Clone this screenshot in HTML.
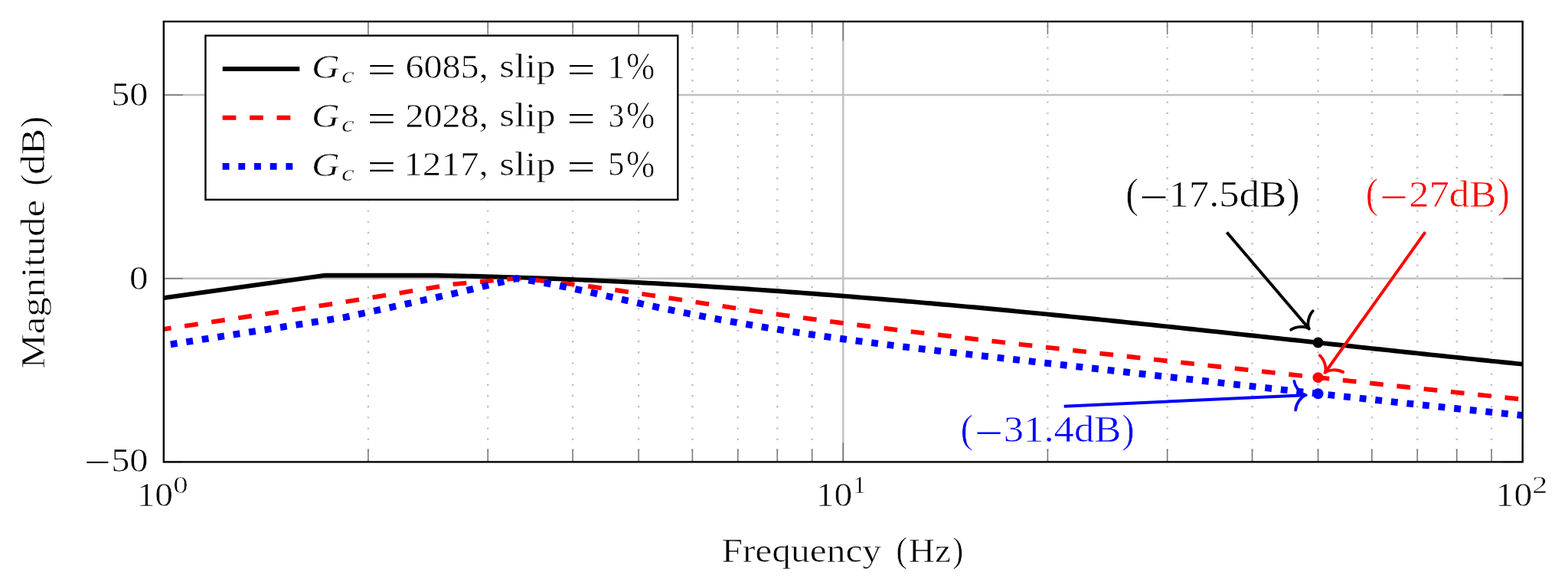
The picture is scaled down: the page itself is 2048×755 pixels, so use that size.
<!DOCTYPE html>
<html><head><meta charset="utf-8"><title>Magnitude plot</title>
<style>html,body{margin:0;padding:0;background:#fff;}svg{display:block;}</style>
</head><body>
<svg width="2048" height="755" viewBox="0 0 2048 755">
<defs><clipPath id="ax"><rect x="213.8" y="28.1" width="1774.9" height="575.3"/></clipPath></defs>
<rect width="2048" height="755" fill="#fff"/>
<path d="M480.95 603.4 V28.1 M637.22 603.4 V28.1 M748.1 603.4 V28.1 M834.1 603.4 V28.1 M904.37 603.4 V28.1 M963.78 603.4 V28.1 M1015.25 603.4 V28.1 M1060.64 603.4 V28.1 M1368.4 603.4 V28.1 M1524.67 603.4 V28.1 M1635.55 603.4 V28.1 M1721.55 603.4 V28.1 M1791.82 603.4 V28.1 M1851.23 603.4 V28.1 M1902.7 603.4 V28.1 M1948.09 603.4 V28.1" stroke="#c0c0c0" stroke-width="2.37" stroke-dasharray="2.37 11.83" fill="none"/>
<path d="M1101.25 603.4 V28.1 M213.8 363.69 H1988.7 M213.8 123.98 H1988.7" stroke="#c0c0c0" stroke-width="2.37" fill="none"/>
<path d="M213.8 603.4 v-25.24 M213.8 28.1 v25.24 M1101.25 603.4 v-25.24 M1101.25 28.1 v25.24 M1988.7 603.4 v-25.24 M1988.7 28.1 v25.24 M480.95 603.4 v-16.82 M480.95 28.1 v16.82 M637.22 603.4 v-16.82 M637.22 28.1 v16.82 M748.1 603.4 v-16.82 M748.1 28.1 v16.82 M834.1 603.4 v-16.82 M834.1 28.1 v16.82 M904.37 603.4 v-16.82 M904.37 28.1 v16.82 M963.78 603.4 v-16.82 M963.78 28.1 v16.82 M1015.25 603.4 v-16.82 M1015.25 28.1 v16.82 M1060.64 603.4 v-16.82 M1060.64 28.1 v16.82 M1368.4 603.4 v-16.82 M1368.4 28.1 v16.82 M1524.67 603.4 v-16.82 M1524.67 28.1 v16.82 M1635.55 603.4 v-16.82 M1635.55 28.1 v16.82 M1721.55 603.4 v-16.82 M1721.55 28.1 v16.82 M1791.82 603.4 v-16.82 M1791.82 28.1 v16.82 M1851.23 603.4 v-16.82 M1851.23 28.1 v16.82 M1902.7 603.4 v-16.82 M1902.7 28.1 v16.82 M1948.09 603.4 v-16.82 M1948.09 28.1 v16.82 M213.8 603.4 h25.24 M1988.7 603.4 h-25.24 M213.8 363.69 h25.24 M1988.7 363.69 h-25.24 M213.8 123.98 h25.24 M1988.7 123.98 h-25.24" stroke="#7a7a7a" stroke-width="1.6" fill="none"/>
<g clip-path="url(#ax)" fill="none" stroke-linejoin="round">
<path d="M200 391.03 L424.9 359.6 L570.8 359.8 L578.76 359.95 L586.72 360.1 L594.69 360.27 L602.65 360.45 L610.61 360.63 L618.57 360.82 L626.53 361.02 L634.5 361.23 L642.46 361.44 L650.42 361.67 L658.38 361.9 L666.34 362.14 L674.31 362.39 L682.27 362.65 L690.23 362.92 L698.19 363.19 L706.15 363.47 L714.12 363.76 L722.08 364.06 L730.04 364.37 L738 364.68 L745.96 365 L753.93 365.33 L761.89 365.67 L769.85 366.01 L777.81 366.37 L785.77 366.73 L793.74 367.1 L801.7 367.47 L809.66 367.85 L817.62 368.25 L825.58 368.64 L833.55 369.05 L841.51 369.46 L849.47 369.88 L857.43 370.31 L865.39 370.74 L873.36 371.19 L881.32 371.64 L889.28 372.09 L897.24 372.56 L905.2 373.03 L913.17 373.5 L921.13 373.99 L929.09 374.48 L937.05 374.98 L945.01 375.48 L952.98 375.99 L960.94 376.51 L968.9 377.03 L976.86 377.57 L984.82 378.1 L992.79 378.65 L1000.75 379.2 L1008.71 379.75 L1016.67 380.32 L1024.63 380.89 L1032.6 381.46 L1040.56 382.04 L1048.52 382.63 L1056.48 383.22 L1064.44 383.82 L1072.41 384.43 L1080.37 385.04 L1088.33 385.66 L1096.29 386.28 L1104.25 386.91 L1112.22 387.54 L1120.18 388.18 L1128.14 388.83 L1136.1 389.48 L1144.06 390.14 L1152.03 390.8 L1159.99 391.46 L1167.95 392.14 L1175.91 392.81 L1183.87 393.49 L1191.84 394.18 L1199.8 394.87 L1207.76 395.57 L1215.72 396.27 L1223.68 396.98 L1231.65 397.69 L1239.61 398.41 L1247.57 399.13 L1255.53 399.85 L1263.49 400.58 L1271.46 401.31 L1279.42 402.05 L1287.38 402.79 L1295.34 403.54 L1303.31 404.29 L1311.27 405.05 L1319.23 405.8 L1327.19 406.57 L1335.15 407.33 L1343.12 408.1 L1351.08 408.88 L1359.04 409.65 L1367 410.43 L1374.96 411.22 L1382.93 412.01 L1390.89 412.8 L1398.85 413.59 L1406.81 414.39 L1414.77 415.19 L1422.74 415.99 L1430.7 416.8 L1438.66 417.61 L1446.62 418.42 L1454.58 419.24 L1462.55 420.05 L1470.51 420.87 L1478.47 421.7 L1486.43 422.52 L1494.39 423.35 L1502.36 424.18 L1510.32 425.01 L1518.28 425.84 L1526.24 426.68 L1534.2 427.52 L1542.17 428.35 L1550.13 429.2 L1558.09 430.04 L1566.05 430.88 L1574.01 431.73 L1581.98 432.58 L1589.94 433.43 L1597.9 434.28 L1605.86 435.13 L1613.82 435.98 L1621.79 436.83 L1629.75 437.69 L1637.71 438.54 L1645.67 439.4 L1653.63 440.26 L1661.6 441.11 L1669.56 441.97 L1677.52 442.83 L1685.48 443.69 L1693.44 444.55 L1701.41 445.41 L1709.37 446.27 L1717.33 447.12 L1725.29 447.98 L1733.25 448.84 L1741.22 449.7 L1749.18 450.56 L1757.14 451.42 L1765.1 452.27 L1773.06 453.13 L1781.03 453.98 L1788.99 454.84 L1796.95 455.69 L1804.91 456.55 L1812.87 457.4 L1820.84 458.25 L1828.8 459.1 L1836.76 459.94 L1844.72 460.79 L1852.68 461.63 L1860.65 462.48 L1868.61 463.32 L1876.57 464.16 L1884.53 464.99 L1892.49 465.83 L1900.46 466.66 L1908.42 467.49 L1916.38 468.32 L1924.34 469.14 L1932.3 469.97 L1940.27 470.79 L1948.23 471.6 L1956.19 472.42 L1964.15 473.23 L1972.11 474.04 L1980.08 474.84 L1988.04 475.64 L1996 476.44" stroke="#000" stroke-width="5.91"/>
<path d="M213.8 430 L435 396.9 L593.5 371.1 L674.6 363.68 L682.56 364.37 L690.52 365.09 L698.48 365.85 L706.44 366.65 L714.4 367.49 L722.36 368.36 L730.32 369.26 L738.28 370.19 L746.24 371.15 L754.2 372.14 L762.16 373.16 L770.12 374.2 L778.08 375.27 L786.04 376.35 L794 377.45 L801.96 378.58 L809.92 379.72 L817.88 380.87 L825.84 382.04 L833.8 383.22 L841.77 384.4 L849.73 385.6 L857.69 386.8 L865.65 388.01 L873.61 389.23 L881.57 390.45 L889.53 391.67 L897.49 392.89 L905.45 394.11 L913.41 395.33 L921.37 396.56 L929.33 397.77 L937.29 398.99 L945.25 400.2 L953.21 401.4 L961.17 402.6 L969.13 403.79 L977.09 404.97 L985.05 406.14 L993.01 407.3 L1000.97 408.45 L1008.93 409.59 L1016.89 410.71 L1024.85 411.83 L1032.81 412.94 L1040.77 414.04 L1048.73 415.12 L1056.69 416.2 L1064.65 417.27 L1072.61 418.33 L1080.57 419.38 L1088.53 420.43 L1096.49 421.46 L1104.45 422.49 L1112.41 423.51 L1120.37 424.52 L1128.33 425.53 L1136.29 426.53 L1144.25 427.52 L1152.21 428.51 L1160.17 429.49 L1168.13 430.46 L1176.1 431.43 L1184.06 432.4 L1192.02 433.36 L1199.98 434.31 L1207.94 435.26 L1215.9 436.21 L1223.86 437.15 L1231.82 438.09 L1239.78 439.02 L1247.74 439.96 L1255.7 440.88 L1263.66 441.81 L1271.62 442.73 L1279.58 443.66 L1287.54 444.58 L1295.5 445.49 L1303.46 446.41 L1311.42 447.33 L1319.38 448.24 L1327.34 449.15 L1335.3 450.07 L1343.26 450.98 L1351.22 451.89 L1359.18 452.8 L1367.14 453.7 L1375.1 454.61 L1383.06 455.52 L1391.02 456.42 L1398.98 457.32 L1406.94 458.23 L1414.9 459.13 L1422.86 460.03 L1430.82 460.93 L1438.78 461.83 L1446.74 462.72 L1454.7 463.62 L1462.66 464.52 L1470.62 465.41 L1478.58 466.3 L1486.54 467.2 L1494.5 468.09 L1502.47 468.98 L1510.43 469.87 L1518.39 470.76 L1526.35 471.64 L1534.31 472.53 L1542.27 473.42 L1550.23 474.3 L1558.19 475.18 L1566.15 476.07 L1574.11 476.95 L1582.07 477.83 L1590.03 478.71 L1597.99 479.59 L1605.95 480.47 L1613.91 481.34 L1621.87 482.22 L1629.83 483.09 L1637.79 483.97 L1645.75 484.84 L1653.71 485.72 L1661.67 486.59 L1669.63 487.46 L1677.59 488.33 L1685.55 489.2 L1693.51 490.07 L1701.47 490.93 L1709.43 491.8 L1717.39 492.67 L1725.35 493.53 L1733.31 494.39 L1741.27 495.26 L1749.23 496.12 L1757.19 496.98 L1765.15 497.84 L1773.11 498.7 L1781.07 499.56 L1789.03 500.42 L1796.99 501.28 L1804.95 502.13 L1812.91 502.99 L1820.87 503.85 L1828.83 504.7 L1836.8 505.55 L1844.76 506.41 L1852.72 507.26 L1860.68 508.11 L1868.64 508.96 L1876.6 509.81 L1884.56 510.66 L1892.52 511.51 L1900.48 512.36 L1908.44 513.2 L1916.4 514.05 L1924.36 514.9 L1932.32 515.74 L1940.28 516.59 L1948.24 517.43 L1956.2 518.27 L1964.16 519.11 L1972.12 519.96 L1980.08 520.8 L1988.04 521.64 L1996 522.48" stroke="#f00" stroke-width="5.91" stroke-dasharray="17.74" stroke-dashoffset="7.9"/>
<path d="M213.8 451.2 L451 414.4 L593.5 383.3 L674.6 363.69 L682.56 364.84 L690.52 366.07 L698.48 367.38 L706.44 368.76 L714.4 370.2 L722.36 371.7 L730.32 373.26 L738.28 374.86 L746.24 376.51 L754.2 378.19 L762.16 379.91 L770.12 381.66 L778.08 383.42 L786.04 385.2 L794 386.99 L801.96 388.79 L809.92 390.59 L817.88 392.38 L825.84 394.16 L833.8 395.93 L841.77 397.68 L849.73 399.4 L857.69 401.1 L865.65 402.77 L873.61 404.43 L881.57 406.06 L889.53 407.67 L897.49 409.26 L905.45 410.82 L913.41 412.36 L921.37 413.88 L929.33 415.38 L937.29 416.86 L945.25 418.32 L953.21 419.75 L961.17 421.16 L969.13 422.56 L977.09 423.93 L985.05 425.28 L993.01 426.61 L1000.97 427.91 L1008.93 429.2 L1016.89 430.47 L1024.85 431.72 L1032.81 432.95 L1040.77 434.16 L1048.73 435.35 L1056.69 436.53 L1064.65 437.68 L1072.61 438.83 L1080.57 439.95 L1088.53 441.06 L1096.49 442.16 L1104.45 443.24 L1112.41 444.31 L1120.37 445.36 L1128.33 446.41 L1136.29 447.44 L1144.25 448.45 L1152.21 449.46 L1160.17 450.46 L1168.13 451.44 L1176.1 452.42 L1184.06 453.39 L1192.02 454.35 L1199.98 455.3 L1207.94 456.24 L1215.9 457.18 L1223.86 458.11 L1231.82 459.03 L1239.78 459.95 L1247.74 460.87 L1255.7 461.78 L1263.66 462.68 L1271.62 463.58 L1279.58 464.48 L1287.54 465.38 L1295.5 466.28 L1303.46 467.17 L1311.42 468.06 L1319.38 468.96 L1327.34 469.85 L1335.3 470.74 L1343.26 471.64 L1351.22 472.54 L1359.18 473.43 L1367.14 474.33 L1375.1 475.23 L1383.06 476.13 L1391.02 477.02 L1398.98 477.92 L1406.94 478.82 L1414.9 479.72 L1422.86 480.63 L1430.82 481.53 L1438.78 482.43 L1446.74 483.33 L1454.7 484.23 L1462.66 485.13 L1470.62 486.03 L1478.58 486.94 L1486.54 487.84 L1494.5 488.74 L1502.47 489.64 L1510.43 490.54 L1518.39 491.44 L1526.35 492.34 L1534.31 493.24 L1542.27 494.15 L1550.23 495.04 L1558.19 495.94 L1566.15 496.84 L1574.11 497.74 L1582.07 498.64 L1590.03 499.54 L1597.99 500.43 L1605.95 501.33 L1613.91 502.22 L1621.87 503.12 L1629.83 504.01 L1637.79 504.9 L1645.75 505.79 L1653.71 506.68 L1661.67 507.57 L1669.63 508.46 L1677.59 509.35 L1685.55 510.23 L1693.51 511.12 L1701.47 512 L1709.43 512.88 L1717.39 513.76 L1725.35 514.64 L1733.31 515.52 L1741.27 516.39 L1749.23 517.27 L1757.19 518.14 L1765.15 519.01 L1773.11 519.88 L1781.07 520.74 L1789.03 521.61 L1796.99 522.47 L1804.95 523.33 L1812.91 524.19 L1820.87 525.05 L1828.83 525.91 L1836.8 526.76 L1844.76 527.61 L1852.72 528.46 L1860.68 529.31 L1868.64 530.15 L1876.6 530.99 L1884.56 531.83 L1892.52 532.67 L1900.48 533.51 L1908.44 534.34 L1916.4 535.17 L1924.36 535.99 L1932.32 536.82 L1940.28 537.64 L1948.24 538.46 L1956.2 539.27 L1964.16 540.09 L1972.12 540.9 L1980.08 541.7 L1988.04 542.51 L1996 543.31" stroke="#00f" stroke-width="8.87" stroke-dasharray="8.87 11.83" stroke-dashoffset="11.6"/>
</g>
<rect x="213.8" y="28.1" width="1774.9" height="575.3" fill="none" stroke="#000" stroke-width="2.37"/>
<circle cx="1721.55" cy="447.59" r="7" fill="#000"/>
<circle cx="1721.55" cy="493.13" r="7" fill="#f00"/>
<circle cx="1721.55" cy="514.23" r="7" fill="#00f"/>
<path d="M1602.4 303.5 L1707.99 427.29" stroke="#000" stroke-width="4" fill="none"/>
<path d="M1686.15 430.65 C1693.24 425.93 1705.05 425.58 1709.86 429.48 C1706.77 424.12 1708.98 412.51 1714.75 406.25" stroke="#000" stroke-width="3.8" fill="none" stroke-linecap="round" stroke-linejoin="round"/>
<path d="M1861.6 303.1 L1732.2 484.55" stroke="#f00" stroke-width="4" fill="none"/>
<path d="M1723.64 464.18 C1729.94 469.91 1733.15 481.28 1730.53 486.9 C1734.98 482.59 1746.78 481.92 1754.25 486.01" stroke="#f00" stroke-width="3.8" fill="none" stroke-linecap="round" stroke-linejoin="round"/>
<path d="M1389.7 530.8 L1702.92 516.21" stroke="#00f" stroke-width="4" fill="none"/>
<path d="M1692.19 535.53 C1692.81 527.03 1699.77 517.48 1705.8 516.07 C1699.67 515.23 1691.85 506.37 1690.44 497.97" stroke="#00f" stroke-width="3.8" fill="none" stroke-linecap="round" stroke-linejoin="round"/>
<rect x="268.4" y="46.5" width="616.9" height="214.3" fill="#fff" stroke="#000" stroke-width="2.37"/>
<path d="M290.7 90 H391.3" stroke="#000" stroke-width="5.91"/>
<path d="M290.6 153.7 H391.3" stroke="#f00" stroke-width="5.91" stroke-dasharray="17.74"/>
<path d="M290.6 217.4 H391.3" stroke="#00f" stroke-width="8.87" stroke-dasharray="8.87 11.83"/>
<g style="font-family:'Liberation Serif',serif;font-kerning:none" stroke="#fff" stroke-width="0.6">
<text transform="translate(406.9 102.4) scale(1.1393 1.0000)" style="font-size:44.6px;font-style:italic;" fill="#000" stroke-width="0.6">G</text>
<text transform="translate(446.1 107.9) scale(1.2382 1.0000)" style="font-size:30.31px;font-style:italic;" fill="#000" stroke-width="0.5">c</text>
<text transform="translate(479.94 105.78) scale(1.5532 1.0800)" style="font-size:42.2px;" fill="#000" stroke="none">=</text>
<text transform="translate(529.43 101.6) scale(1.1116 1.0000)" style="font-size:43.3px;" fill="#000" stroke-width="0.6">6085,</text>
<text transform="translate(652.21 101.1) scale(1.1744 1.0000)" style="font-size:43.3px;" fill="#000" stroke-width="0.6">slip</text>
<text transform="translate(740.86 105.78) scale(1.5430 1.0800)" style="font-size:42.2px;" fill="#000" stroke="none">=</text>
<text transform="translate(793.21 101.6) scale(1.0758 1.0000)" style="font-size:43.3px;" fill="#000" stroke-width="0.6">1</text>
<text transform="translate(818.07 102.8) scale(1.0329 1.1630)" style="font-size:43.3px;" fill="#000" stroke-width="0.6">%</text>
<text transform="translate(406.9 166.3) scale(1.1393 1.0000)" style="font-size:44.6px;font-style:italic;" fill="#000" stroke-width="0.6">G</text>
<text transform="translate(446.1 171.8) scale(1.2382 1.0000)" style="font-size:30.31px;font-style:italic;" fill="#000" stroke-width="0.5">c</text>
<text transform="translate(479.94 169.68) scale(1.5532 1.0800)" style="font-size:42.2px;" fill="#000" stroke="none">=</text>
<text transform="translate(529.38 165.5) scale(1.1121 1.0000)" style="font-size:43.3px;" fill="#000" stroke-width="0.6">2028,</text>
<text transform="translate(652.21 165) scale(1.1744 1.0000)" style="font-size:43.3px;" fill="#000" stroke-width="0.6">slip</text>
<text transform="translate(740.86 169.68) scale(1.5430 1.0800)" style="font-size:42.2px;" fill="#000" stroke="none">=</text>
<text transform="translate(794.73 165.5) scale(0.9504 1.0000)" style="font-size:43.3px;" fill="#000" stroke-width="0.6">3</text>
<text transform="translate(818.07 166.7) scale(1.0329 1.1630)" style="font-size:43.3px;" fill="#000" stroke-width="0.6">%</text>
<text transform="translate(406.9 230.1) scale(1.1393 1.0000)" style="font-size:44.6px;font-style:italic;" fill="#000" stroke-width="0.6">G</text>
<text transform="translate(446.1 235.6) scale(1.2382 1.0000)" style="font-size:30.31px;font-style:italic;" fill="#000" stroke-width="0.5">c</text>
<text transform="translate(479.94 233.48) scale(1.5532 1.0800)" style="font-size:42.2px;" fill="#000" stroke="none">=</text>
<text transform="translate(527.18 229.3) scale(1.1354 1.0000)" style="font-size:43.3px;" fill="#000" stroke-width="0.6">1217,</text>
<text transform="translate(652.21 228.8) scale(1.1744 1.0000)" style="font-size:43.3px;" fill="#000" stroke-width="0.6">slip</text>
<text transform="translate(740.86 233.48) scale(1.5430 1.0800)" style="font-size:42.2px;" fill="#000" stroke="none">=</text>
<text transform="translate(794.25 229.3) scale(0.9746 1.0000)" style="font-size:43.3px;" fill="#000" stroke-width="0.6">5</text>
<text transform="translate(818.07 230.5) scale(1.0329 1.1630)" style="font-size:43.3px;" fill="#000" stroke-width="0.6">%</text>
<text transform="translate(145.2 137.9) scale(1.1141 1.0000)" style="font-size:43.3px;" fill="#000" stroke-width="0.6">50</text>
<text transform="translate(169.03 377.6) scale(1.1334 1.0000)" style="font-size:43.3px;" fill="#000" stroke-width="0.6">0</text>
<text transform="translate(110.18 617.91) scale(1.4361 1.0000)" style="font-size:42.2px;" fill="#000" stroke="none">−</text>
<text transform="translate(145.19 615.7) scale(1.1167 1.0000)" style="font-size:43.3px;" fill="#000" stroke-width="0.6">50</text>
<text transform="translate(178.63 660.9) scale(1.0966 1.0000)" style="font-size:43.3px;" fill="#000" stroke-width="0.6">10</text>
<text transform="translate(226.28 643.9) scale(1.2412 1.0000)" style="font-size:31.18px;" fill="#000" stroke-width="0.5">0</text>
<text transform="translate(1065.83 660.9) scale(1.0966 1.0000)" style="font-size:43.3px;" fill="#000" stroke-width="0.6">10</text>
<text transform="translate(1113.85 643.9) scale(1.1298 1.0000)" style="font-size:31.18px;" fill="#000" stroke-width="0.5">1</text>
<text transform="translate(1953.61 660.9) scale(1.1019 1.0000)" style="font-size:43.3px;" fill="#000" stroke-width="0.6">10</text>
<text transform="translate(2001.2 643.9) scale(1.2802 1.0000)" style="font-size:31.18px;" fill="#000" stroke-width="0.5">2</text>
<text transform="translate(942.38 733.8) scale(1.1239 1.0000)" style="font-size:44px;" fill="#000" stroke-width="0.6">Frequency</text>
<text transform="translate(1170.35 734.01) scale(1.0088 1.0553)" style="font-size:44px;" fill="#000" stroke-width="0.6">(</text>
<text transform="translate(1186.74 733.8) scale(1.0755 1.0000)" style="font-size:44px;" fill="#000" stroke-width="0.6">Hz</text>
<text transform="translate(1244.02 734.01) scale(0.9734 1.0553)" style="font-size:44px;" fill="#000" stroke-width="0.6">)</text>
<g transform="rotate(-90)">
<text transform="translate(-481.57 58) scale(1.1579 1.0000)" style="font-size:44px;" fill="#000" stroke-width="0.6">Magnitude</text>
<text transform="translate(-242.82 58.74) scale(1.0442 1.0528)" style="font-size:44px;" fill="#000" stroke-width="0.6">(</text>
<text transform="translate(-228.06 58) scale(1.1720 1.0000)" style="font-size:44px;" fill="#000" stroke-width="0.6">dB</text>
<text transform="translate(-167.28 58.74) scale(1.0442 1.0528)" style="font-size:44px;" fill="#000" stroke-width="0.6">)</text>
</g>
<text transform="translate(1470.31 271.1) scale(1.0171 1.1119)" style="font-size:49px;" fill="#000" stroke-width="0.6">(</text>
<text transform="translate(1488.74 273.97) scale(1.3376 1.0000)" style="font-size:49px;" fill="#000" stroke="none">−</text>
<text transform="translate(1526.47 269.8) scale(1.0754 1.0000)" style="font-size:49px;" fill="#000" stroke-width="0.6">17.5dB</text>
<text transform="translate(1681.23 271.1) scale(0.9932 1.1119)" style="font-size:49px;" fill="#000" stroke-width="0.6">)</text>
<text transform="translate(1783.64 271.09) scale(1.0012 1.1029)" style="font-size:49px;" fill="#f00" stroke-width="0.6">(</text>
<text transform="translate(1802.82 274.37) scale(1.3026 1.0000)" style="font-size:49px;" fill="#f00" stroke="none">−</text>
<text transform="translate(1840.18 269.7) scale(1.0754 1.0000)" style="font-size:49px;" fill="#f00" stroke-width="0.6">27dB</text>
<text transform="translate(1955.64 271.09) scale(0.9853 1.1029)" style="font-size:49px;" fill="#f00" stroke-width="0.6">)</text>
<text transform="translate(1254.58 578.14) scale(1.0330 1.0984)" style="font-size:49px;" fill="#00f" stroke-width="0.6">(</text>
<text transform="translate(1273.57 581.77) scale(1.3245 1.0000)" style="font-size:49px;" fill="#00f" stroke="none">−</text>
<text transform="translate(1310.78 576.9) scale(1.0746 1.0000)" style="font-size:49px;" fill="#00f" stroke-width="0.6">31.4dB</text>
<text transform="translate(1465.31 578.14) scale(1.0091 1.0984)" style="font-size:49px;" fill="#00f" stroke-width="0.6">)</text>
</g>
</svg>
</body></html>
